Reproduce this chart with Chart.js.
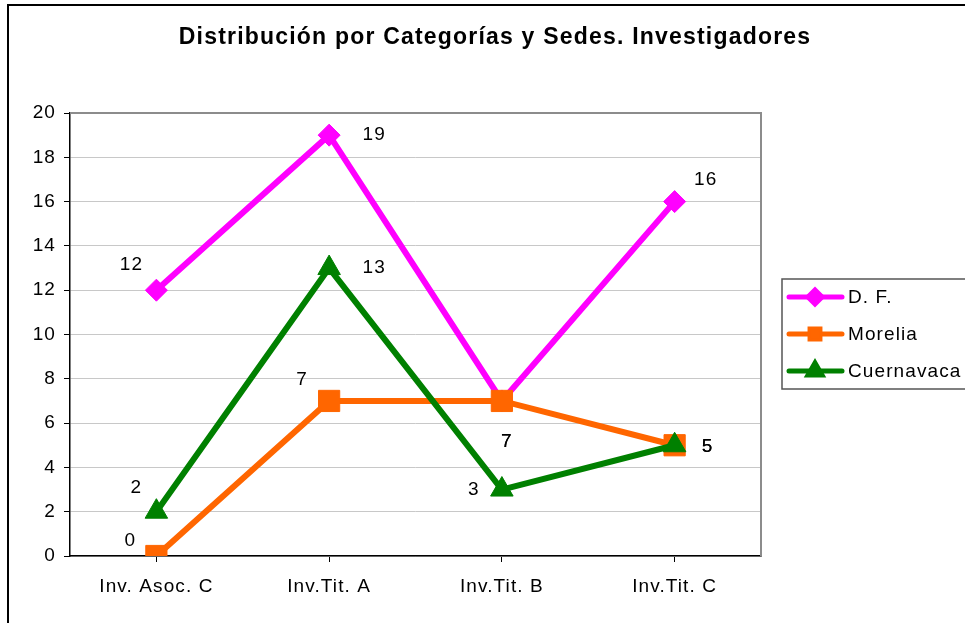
<!DOCTYPE html>
<html>
<head>
<meta charset="utf-8">
<script src="https://cdn.jsdelivr.net/npm/chart.js@4"></script>
<style>
  html, body { margin: 0; padding: 0; background: #fff; }
</style>
</head>
<body>
<canvas id="myChart" width="965" height="623"></canvas>
<script>
const categories = ['Inv. Asoc. C', 'Inv.Tit. A', 'Inv.Tit. B', 'Inv.Tit. C']
const seriesNames = ['D. F.', 'Morelia', 'Cuernavaca']
const df = [12, 19, 7, 16]
const morelia = [0, 7, 7, 5]
const cuernavaca = [2, 13, 3, 5]
const yTicks = [0, 2, 4, 6, 8, 10, 12, 14, 16, 18, 20]

const FONT = "'Liberation Sans', Arial, sans-serif"
const titleText = 'Distribución por Categorías y Sedes. Investigadores'

// offsets of the value labels from their point, in pixels
const labelOffsets = [
  [[-25, -25], [45, 0], [5, 41], [31, -22]],
  [[-26, -15], [-27, -21], [5, 41], [33, 2]],
  [[-20, -24], [45, 0], [-28, 0], [33, 2]],
]

const legendMarkers = [
  { style: 'rectRot', radius: 7 },
  { style: 'rect', radius: 7 },
  { style: 'triangle', radius: 8 },
]

const decor = {
  id: 'decor',
  beforeDraw(chart) {
    const c = chart.ctx
    c.save()
    c.fillStyle = '#fff'
    c.fillRect(0, 0, chart.width, chart.height)
    c.strokeStyle = '#000'
    c.lineWidth = 2
    c.beginPath()
    c.moveTo(8, chart.height + 2)
    c.lineTo(8, 5)
    c.lineTo(chart.width + 2, 5)
    c.stroke()
    c.restore()
    // the source text is slightly spaced out
    c.letterSpacing = '1.1px'
  },
  beforeDatasetsDraw(chart) {
    const c = chart.ctx
    const a = chart.chartArea
    c.save()
    c.strokeStyle = '#8c8c8c'
    c.lineWidth = 2
    c.beginPath()
    c.moveTo(a.left, a.top)
    c.lineTo(a.right, a.top)
    c.lineTo(a.right, a.bottom)
    c.stroke()
    c.restore()
  },
  afterDatasetsDraw(chart) {
    const c = chart.ctx
    c.save()
    c.fillStyle = '#000'
    c.font = '19px ' + FONT
    c.textAlign = 'center'
    c.textBaseline = 'middle'
    chart.data.datasets.forEach((ds, i) => {
      const meta = chart.getDatasetMeta(i)
      meta.data.forEach((pt, j) => {
        const off = labelOffsets[i][j]
        c.fillText(String(ds.data[j]), pt.x + off[0], pt.y + off[1])
      })
    })
    c.restore()
  },
  afterDraw(chart) {
    const c = chart.ctx
    c.save()
    // title
    c.fillStyle = '#000'
    c.font = 'bold 23px ' + FONT
    c.letterSpacing = '1.2px'
    c.textAlign = 'center'
    c.textBaseline = 'middle'
    c.fillText(titleText, 495, 38)
    // legend box
    const lx = 782, ly = 279, lw = 210, lh = 110
    c.strokeStyle = '#555'
    c.lineWidth = 1.5
    c.strokeRect(lx, ly, lw, lh)
    c.font = '19px ' + FONT
    c.letterSpacing = '1.1px'
    c.textAlign = 'left'
    chart.data.datasets.forEach((ds, i) => {
      const y = 297 + i * 37
      c.strokeStyle = ds.borderColor
      c.lineWidth = 5
      c.lineCap = 'round'
      c.beginPath()
      c.moveTo(789, y)
      c.lineTo(842, y)
      c.stroke()
      Chart.helpers.drawPoint(c, {
        pointStyle: legendMarkers[i].style,
        radius: legendMarkers[i].radius,
        rotation: 0,
        borderWidth: 1,
      }, 815, y)
      c.fillStyle = ds.borderColor
      c.fill()
      c.fillStyle = '#000'
      c.fillText(ds.label, 848, y + 1)
    })
    c.restore()
  },
}

function makeSet(label, data, color, style, radius, order) {
  return {
    label: label,
    data: data,
    borderColor: color,
    backgroundColor: color,
    borderWidth: 6,
    pointStyle: style,
    pointRadius: radius,
    pointHoverRadius: radius,
    pointBackgroundColor: color,
    pointBorderColor: color,
    pointBorderWidth: 1,
    tension: 0,
    order: order,
  }
}

new Chart(document.getElementById('myChart'), {
  type: 'line',
  data: {
    labels: categories,
    datasets: [
      makeSet(seriesNames[0], df, '#ff00ff', 'rectRot', 11, 3),
      makeSet(seriesNames[1], morelia, '#ff6600', 'rect', 15, 2),
      makeSet(seriesNames[2], cuernavaca, '#008000', 'triangle', 13, 1),
    ],
  },
  options: {
    responsive: false,
    animation: false,
    layout: { padding: { top: 113, right: 204, bottom: 0, left: 0 } },
    plugins: {
      legend: { display: false },
      title: { display: false },
      tooltip: { enabled: false },
    },
    scales: {
      x: {
        offset: true,
        afterFit(scale) { scale.height = 67 },
        border: { color: '#000', width: 1.5 },
        grid: { drawOnChartArea: false, color: '#000', tickLength: 6 },
        ticks: { color: '#000', font: { family: FONT, size: 19 }, padding: 13 },
      },
      y: {
        min: 0,
        max: 20,
        afterFit(scale) { scale.width = 70 },
        afterBuildTicks(scale) { scale.ticks = yTicks.map(v => ({ value: v })) },
        border: { color: '#000', width: 1.5 },
        grid: { color: '#c8c8c8', tickColor: '#000', tickLength: 6 },
        ticks: { color: '#000', font: { family: FONT, size: 19 }, padding: 8 },
      },
    },
  },
  plugins: [decor],
})
</script>
</body>
</html>
